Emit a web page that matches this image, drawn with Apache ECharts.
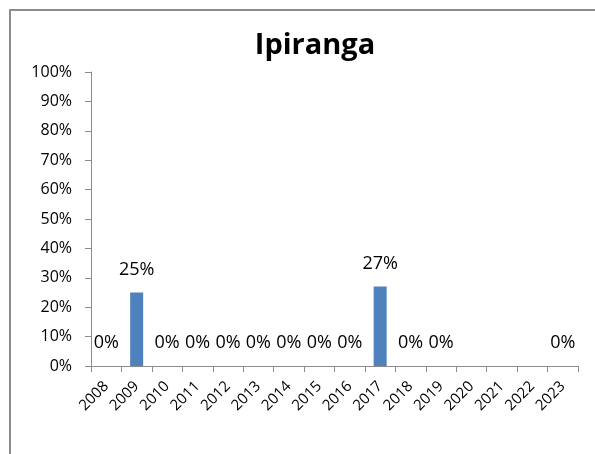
<!DOCTYPE html>
<html>
<head>
<meta charset="utf-8">
<script src="https://cdn.jsdelivr.net/npm/echarts@6/dist/echarts.min.js"></script>
<style>
  html, body { margin: 0; padding: 0; background: #fff; overflow: hidden; }
  #frame {
    position: absolute; left: 9px; top: 9px; width: 700px; height: 600px;
    border: 2px solid #8c8c8c; box-sizing: border-box;
  }
  #chart { position: absolute; left: 0; top: 0; width: 595px; height: 454px; }
</style>
</head>
<body>
<div id="frame"></div>
<div id="chart"></div>
<script>
const years = ['2008', '2009', '2010', '2011', '2012', '2013', '2014', '2015',
  '2016', '2017', '2018', '2019', '2020', '2021', '2022', '2023']
// percentages; null = no value shown
const shares = [0, 25, 0, 0, 0, 0, 0, 0, 0, 27, 0, 0, null, null, null, 0]
const yTicks = [0, 10, 20, 30, 40, 50, 60, 70, 80, 90, 100]

const chart = echarts.init(document.getElementById('chart'), null, { renderer: 'canvas' })
const font = 'Open Sans, Noto Sans, sans-serif'

chart.setOption({
  animation: false,
  title: {
    text: 'Ipiranga',
    left: 310,
    top: 26,
    textAlign: 'center',
    textStyle: { fontSize: 29, fontWeight: 'bold', color: '#000', fontFamily: font }
  },
  grid: { left: 91, right: 17, top: 72, bottom: 88 },
  xAxis: {
    type: 'category',
    data: years,
    axisLine: { lineStyle: { color: '#8c8c8c', width: 1 } },
    axisTick: { show: true, length: 6, lineStyle: { color: '#8c8c8c' } },
    axisLabel: { rotate: 45, interval: 0, fontSize: 15, color: '#000', fontFamily: font, margin: 18 }
  },
  yAxis: {
    type: 'value',
    min: yTicks[0],
    max: yTicks[yTicks.length - 1],
    interval: 10,
    splitLine: { show: false },
    axisLine: { show: true, lineStyle: { color: '#8c8c8c', width: 1 } },
    axisTick: { show: true, length: 6, lineStyle: { color: '#8c8c8c' } },
    axisLabel: { fontSize: 16, color: '#000', fontFamily: font, margin: 19, formatter: '{value}%' }
  },
  series: [{
    type: 'bar',
    data: shares,
    barWidth: 13,
    itemStyle: { color: '#4F81BD' },
    label: {
      show: true,
      position: 'top',
      distance: 14,
      fontSize: 18,
      color: '#000',
      fontFamily: font,
      formatter: p => p.value == null ? '' : p.value + '%'
    }
  }]
})
</script>
</body>
</html>
